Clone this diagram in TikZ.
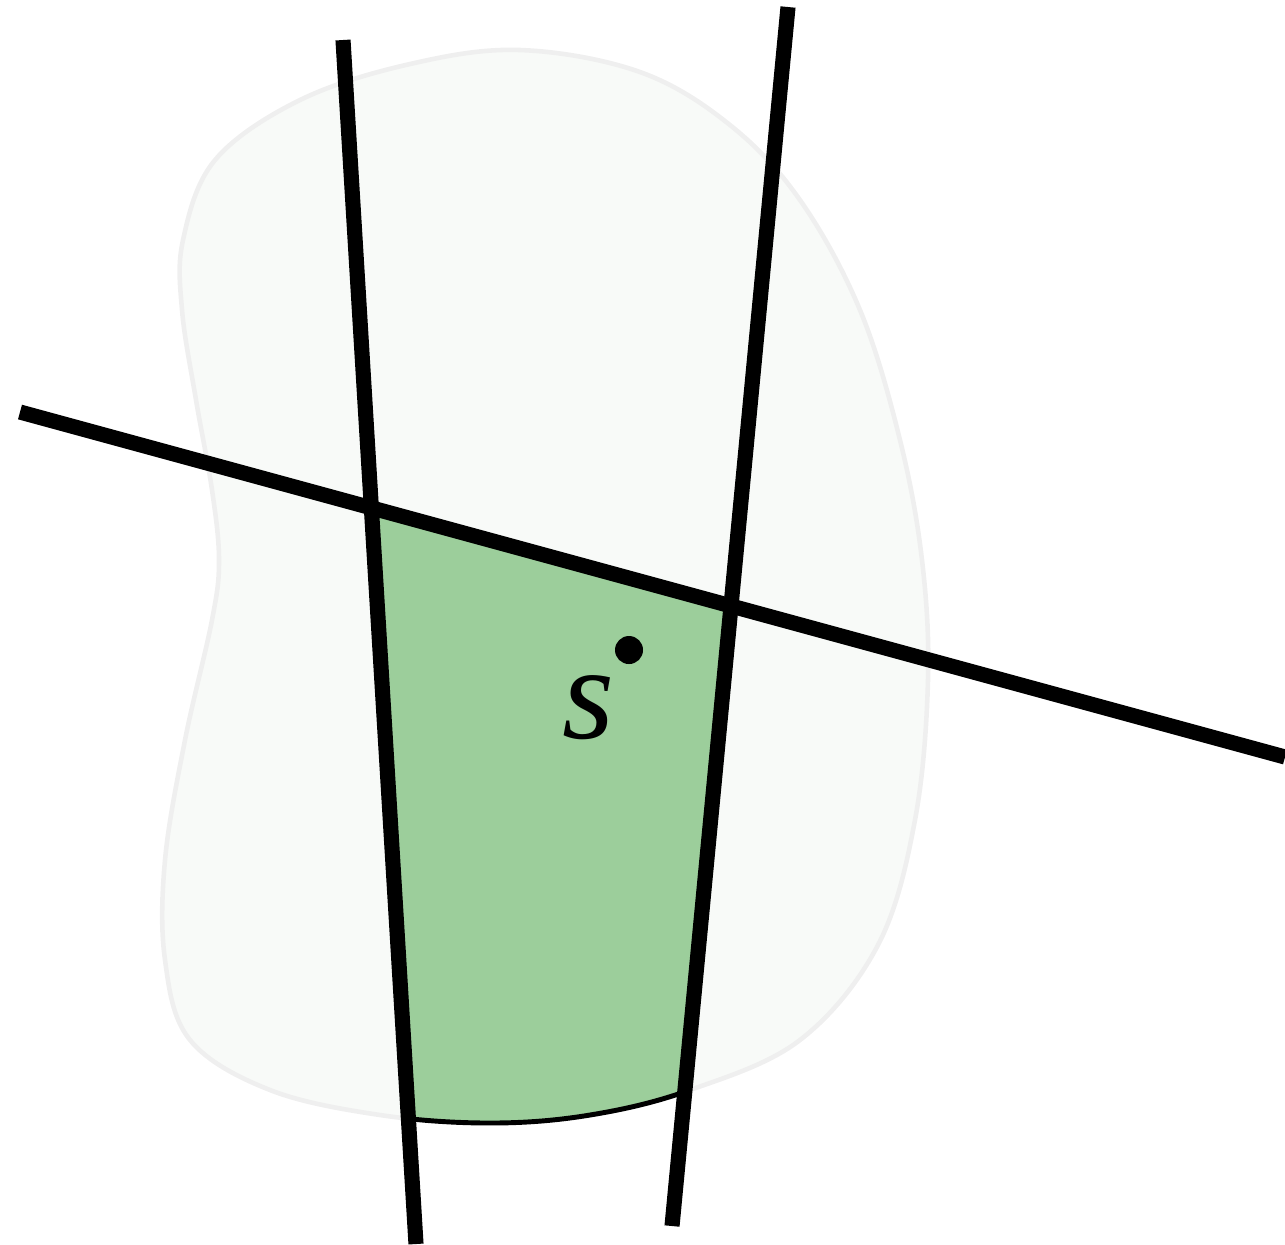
\documentclass[tikz,border=0pt]{standalone}
\usepackage{fontspec}
\newfontfamily\labelfont{Liberation Serif}
\usetikzlibrary{calc}
\definecolor{BlobFill}{HTML}{F8FAF8}
\definecolor{BlobEdge}{HTML}{EFEFEF}
\definecolor{Region}{HTML}{9CCE9B}
\tikzset{
  cut/.style={line width=4.3pt, draw=black},
  blobedge/.style={line width=1.3pt, draw=BlobEdge, fill=BlobFill},
  rim/.style={line width=1.4pt, draw=black},
  pointdot/.style={circle, fill=black, inner sep=0pt, minimum size=0.28cm}
}
\def\blobpath{plot[smooth cycle, tension=0.6] coordinates {
  (520,50) (640,72) (730,125) (800,200) (860,310) (900,440)
  (922,560) (928,680) (915,820) (878,945) (800,1040) (690,1090)
  (590,1115) (490,1123) (380,1115) (270,1090) (190,1040) (165,960)
  (165,860) (185,740) (212,620) (219,560) (212,490) (196,400)
  (182,310) (183,240) (215,160) (300,100) (410,64)}}

\begin{document}
\begin{tikzpicture}[x=0.01cm, y=-0.01cm]
  \useasboundingbox (0,0) rectangle (1285,1244);
  % the three cuts
  \coordinate (a1) at (343,40);
  \coordinate (a2) at (416,1244);
  \coordinate (b1) at (788,7);
  \coordinate (b2) at (672,1226);
  \coordinate (b3) at (670,1244);
  \coordinate (c1) at (20,412);
  \coordinate (c2) at (1285,757);
  \coordinate (ac) at (intersection of a1--a2 and c1--c2);
  \coordinate (bc) at (intersection of b1--b2 and c1--c2);

  \path[blobedge] \blobpath;
  \begin{scope}
    \clip \blobpath;
    \fill[Region] (ac) -- (bc) -- (b3) -- (a2) -- cycle;
  \end{scope}
  \begin{scope}
    \clip (ac) -- (bc) -- (b3) -- (a2) -- cycle;
    \draw[rim] \blobpath;
  \end{scope}

  \draw[cut] (a1) -- (a2);
  \draw[cut] (b1) -- (b2);
  \draw[cut] (c1) -- (c2);

  \node[pointdot] (s) at (629,650) {};
  \node[font=\labelfont\itshape\fontsize{38}{44}\selectfont] (slabel) at (588,708) {s};
\end{tikzpicture}
\end{document}
